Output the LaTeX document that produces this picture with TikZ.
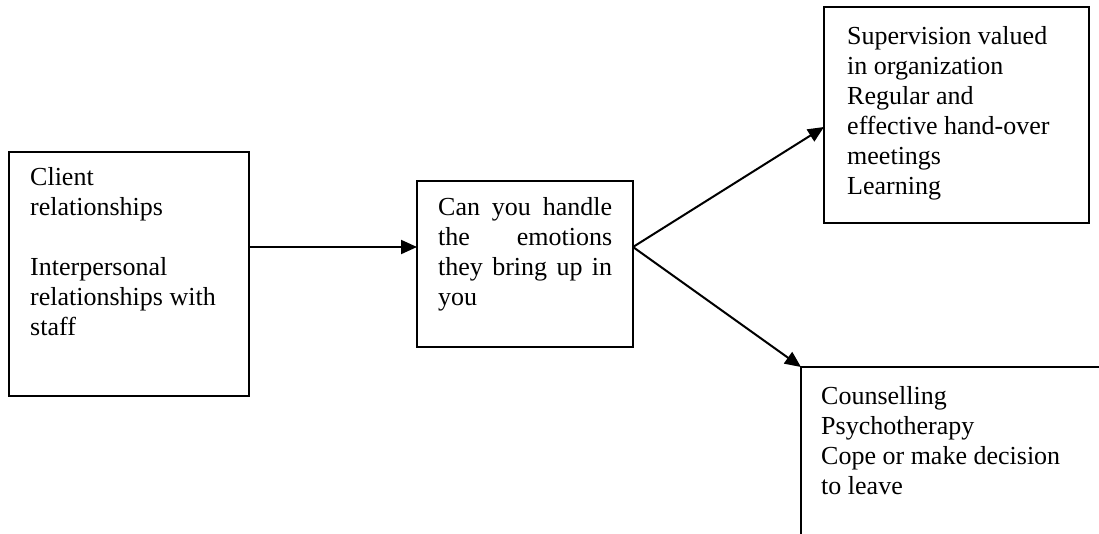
\documentclass[tikz,border=0pt]{standalone}
\usepackage{fontspec}
\setmainfont{Liberation Serif}
\usetikzlibrary{arrows.meta,calc}

\begin{document}
\begin{tikzpicture}[x=1pt,y=-1pt,
    box/.style={draw,line width=2pt,inner sep=0pt,outer sep=0pt,anchor=north west},
    % the base anchor of a multi-line text sits on its last line
    boxtext/.style={anchor=base west,inner sep=0pt,align=left,
      font=\fontsize{26}{30}\selectfont},
    flow/.style={line width=2pt,-{Triangle[length=16pt,width=14pt]}}]
  \useasboundingbox (0,0) rectangle (1099,533);
  \clip (0,0) rectangle (1099,533);

  % closed boxes
  \node[box,minimum width=240pt,minimum height=244pt] (box1) at (9,152) {};
  \node[box,minimum width=216pt,minimum height=166pt] (box2) at (417,181) {};
  \node[box,minimum width=265pt,minimum height=216pt] (box3) at (824,7) {};
  % open box running off the lower right corner: only its top and left sides
  \node[inner sep=0pt,outer sep=0pt,anchor=north west,
        minimum width=300pt,minimum height=172pt] (box4) at (801,367) {};
  \draw[line width=2pt] (box4.south west) -- (box4.north west) -- (box4.north east);

  % texts
  \node[boxtext] (t1) at ($(box1.north west)+(21,183)$)
    {Client\\relationships\\[30pt]Interpersonal\\relationships with\\staff};
  \node[boxtext] (t2) at ($(box2.north west)+(21,124)$)
    {\makebox[174pt][s]{Can you handle}\\
     \makebox[174pt][s]{the emotions}\\
     \makebox[174pt][s]{they bring up in}\\
     you};
  \node[boxtext] (t3) at ($(box3.north west)+(23,187)$)
    {Supervision valued\\in organization\\Regular and\\effective hand-over\\meetings\\Learning};
  \node[boxtext] (t4) at ($(box4.north west)+(20,127)$)
    {Counselling\\Psychotherapy\\Cope or make decision\\to leave};

  % connectors
  \coordinate (out1) at ($(box1.north east)+(0,95)$);
  \coordinate (in2) at ($(box2.north west)+(0,66)$);
  \coordinate (out2) at ($(box2.north east)+(0,66)$);
  \coordinate (in3) at ($(box3.north west)+(0,120)$);
  \draw[flow] (out1) -- (in2);
  \draw[flow] (out2) -- (in3);
  \draw[flow] (out2) -- (box4.north west);
\end{tikzpicture}
\end{document}
